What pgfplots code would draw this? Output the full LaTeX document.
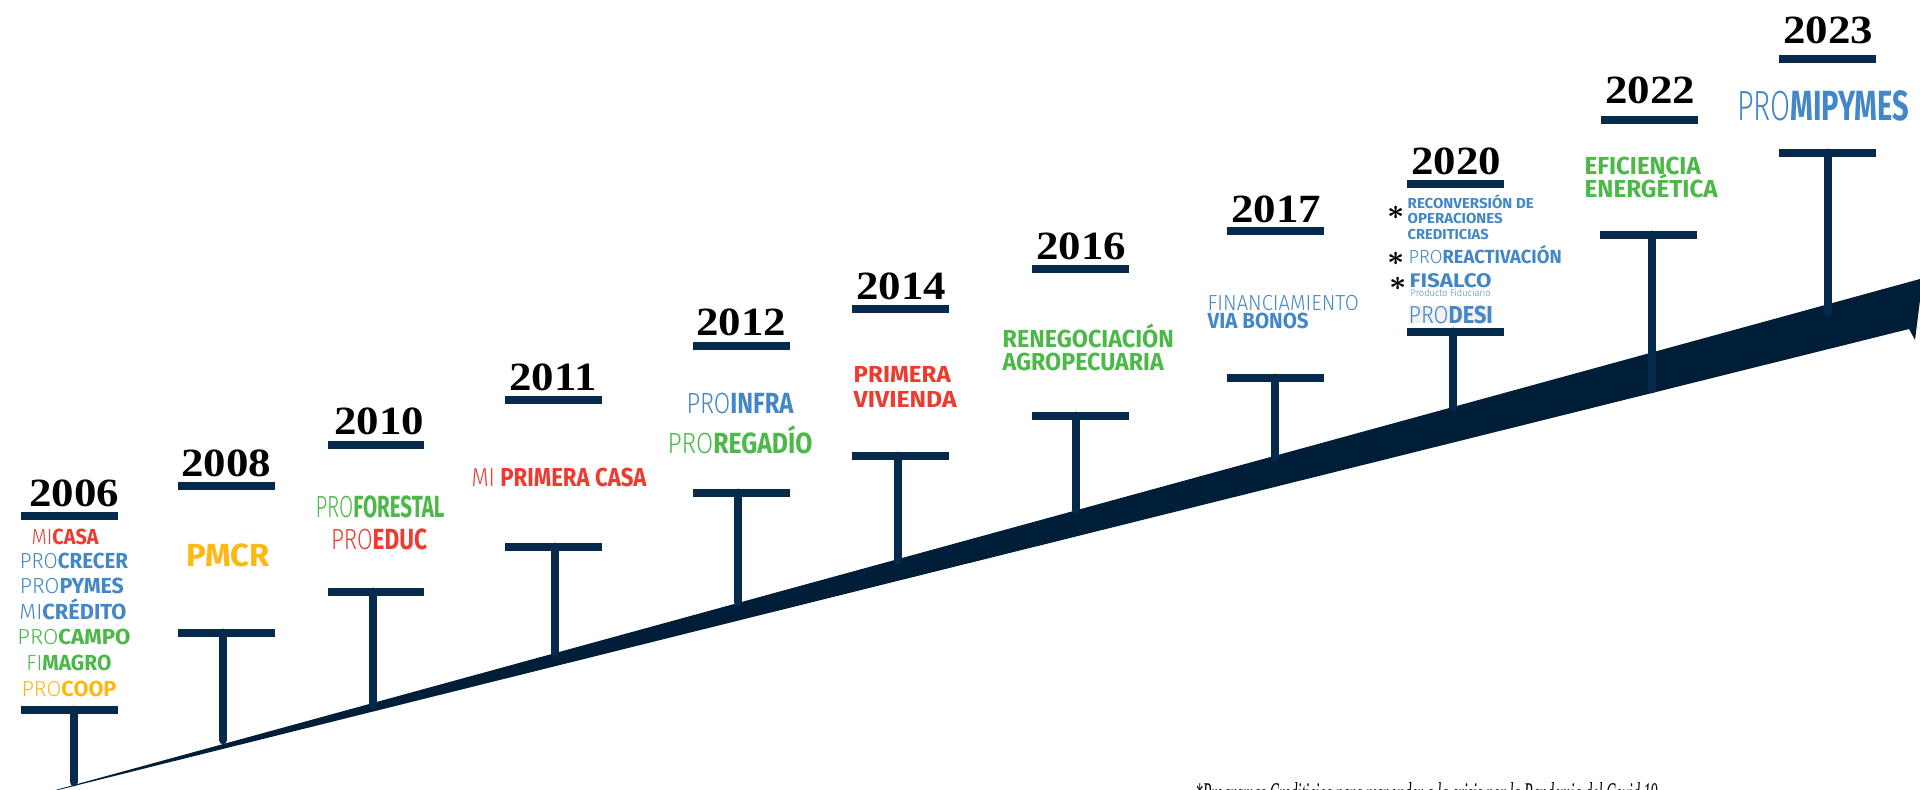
\documentclass[border=0pt]{standalone}
\usepackage{graphicx}
\usepackage{pgfplots}
\pgfplotsset{compat=1.18}
\usepackage{fontspec}
\setmainfont{Liberation Serif}
\newfontfamily\fira{Fira Sans}[UprightFont={* Light}, BoldFont={* Bold}]
\newcommand\lt[1]{{\fira\mdseries #1}}
\newcommand\bd[1]{{\fira\bfseries #1}}
\newcommand\fl[3]{\resizebox{#1}{\height}{\fontsize{#2}{#2}\selectfont #3}}
\newcommand\yr[1]{\scalebox{1.12}[1]{\fontsize{11.4}{11.4}\selectfont\bfseries #1}}
\newsavebox\astbox
\definecolor{barc}{HTML}{062A4B}
\definecolor{ribc}{HTML}{011E38}
\definecolor{cred}{HTML}{EE3B2F}
\definecolor{cblue}{HTML}{4287C8}
\definecolor{cgreen}{HTML}{4CB848}
\definecolor{cyel}{HTML}{FDB813}
\begin{document}
\sbox\astbox{\fontsize{8}{8}\selectfont\boldmath$\ast$}%
\begin{tikzpicture}
\begin{axis}[name=ax, scale only axis, width=192mm, height=79mm,
  xmin=0, xmax=1920, ymin=0, ymax=790, y dir=reverse, hide axis, clip=false]
% ribbon
\addplot[fill=ribc, draw=none] coordinates {(30,797) (1920,279) (1920,300) (1915,340) (1909,329) (30,797)};
% stems
\addplot[barc, line width=0.88mm, line cap=round] coordinates {(74,710) (74,782)};
\addplot[barc, line width=0.88mm, line cap=round] coordinates {(223,633) (223,740)};
\addplot[barc, line width=0.88mm, line cap=round] coordinates {(373,592) (373,705)};
\addplot[barc, line width=0.88mm, line cap=round] coordinates {(555,547) (555,653)};
\addplot[barc, line width=0.88mm, line cap=round] coordinates {(738,493) (738,602)};
\addplot[barc, line width=0.88mm, line cap=round] coordinates {(898,456) (898,560)};
\addplot[barc, line width=0.88mm, line cap=round] coordinates {(1076,416) (1076,510)};
\addplot[barc, line width=0.88mm, line cap=round] coordinates {(1275,378) (1275,457)};
\addplot[barc, line width=0.88mm, line cap=round] coordinates {(1453,332) (1453,407)};
\addplot[barc, line width=0.88mm, line cap=round] coordinates {(1652,235) (1652,389)};
\addplot[barc, line width=0.88mm, line cap=round] coordinates {(1828,153) (1828,312)};
% bottom bars
\addplot[barc, line width=0.88mm] coordinates {(21,710) (118,710)};
\addplot[barc, line width=0.88mm] coordinates {(178,633) (275,633)};
\addplot[barc, line width=0.88mm] coordinates {(328,592) (424,592)};
\addplot[barc, line width=0.88mm] coordinates {(505,547) (602,547)};
\addplot[barc, line width=0.88mm] coordinates {(693,493) (790,493)};
\addplot[barc, line width=0.88mm] coordinates {(852,456) (949,456)};
\addplot[barc, line width=0.88mm] coordinates {(1032,416) (1129,416)};
\addplot[barc, line width=0.88mm] coordinates {(1227,378) (1324,378)};
\addplot[barc, line width=0.88mm] coordinates {(1407,332) (1504,332)};
\addplot[barc, line width=0.88mm] coordinates {(1600,235) (1697,235)};
\addplot[barc, line width=0.88mm] coordinates {(1779,153) (1876,153)};
% top bars
\addplot[barc, line width=0.88mm] coordinates {(21,516) (118,516)};
\addplot[barc, line width=0.88mm] coordinates {(178,486) (275,486)};
\addplot[barc, line width=0.88mm] coordinates {(328,445) (424,445)};
\addplot[barc, line width=0.88mm] coordinates {(505,400) (602,400)};
\addplot[barc, line width=0.88mm] coordinates {(693,346) (790,346)};
\addplot[barc, line width=0.88mm] coordinates {(852,309) (949,309)};
\addplot[barc, line width=0.88mm] coordinates {(1032,269) (1129,269)};
\addplot[barc, line width=0.88mm] coordinates {(1227,231) (1324,231)};
\addplot[barc, line width=0.88mm] coordinates {(1407,184) (1504,184)};
\addplot[barc, line width=0.88mm] coordinates {(1601,120) (1698,120)};
\addplot[barc, line width=0.88mm] coordinates {(1779,59) (1876,59)};
% years
\node[anchor=base, inner sep=0] at (axis cs:74,507) {\yr{2006}};
\node[anchor=base, inner sep=0] at (axis cs:226,477) {\yr{2008}};
\node[anchor=base, inner sep=0] at (axis cs:379,435) {\yr{2010}};
\node[anchor=base, inner sep=0] at (axis cs:553,390) {\yr{2011}};
\node[anchor=base, inner sep=0] at (axis cs:741,335) {\yr{2012}};
\node[anchor=base, inner sep=0] at (axis cs:901,299) {\yr{2014}};
\node[anchor=base, inner sep=0] at (axis cs:1081,259) {\yr{2016}};
\node[anchor=base, inner sep=0] at (axis cs:1276,222) {\yr{2017}};
\node[anchor=base, inner sep=0] at (axis cs:1456,174) {\yr{2020}};
\node[anchor=base, inner sep=0] at (axis cs:1650,103) {\yr{2022}};
\node[anchor=base, inner sep=0] at (axis cs:1828,43) {\yr{2023}};
% 2006
\node[anchor=base, inner sep=0, text=cred] at (axis cs:65,545) {\fl{6.7mm}{6.2}{\lt{MI}\bd{CASA}}};
\node[anchor=base, inner sep=0, text=cblue] at (axis cs:74,569) {\fl{10.8mm}{6.2}{\lt{PRO}\bd{CRECER}}};
\node[anchor=base, inner sep=0, text=cblue] at (axis cs:72,594) {\fl{10.4mm}{6.2}{\lt{PRO}\bd{PYMES}}};
\node[anchor=base, inner sep=0, text=cblue] at (axis cs:73,620) {\fl{10.7mm}{6.2}{\lt{MI}\bd{CRÉDITO}}};
\node[anchor=base, inner sep=0, text=cgreen] at (axis cs:74,645) {\fl{11.3mm}{6.2}{\lt{PRO}\bd{CAMPO}}};
\node[anchor=base, inner sep=0, text=cgreen] at (axis cs:69,671) {\fl{8.5mm}{6.2}{\lt{FI}\bd{MAGRO}}};
\node[anchor=base, inner sep=0, text=cyel] at (axis cs:69,697) {\fl{9.5mm}{6.2}{\lt{PRO}\bd{COOP}}};
% 2008
\node[anchor=base, inner sep=0, text=cyel] at (axis cs:228,567) {\fl{8.3mm}{9.1}{\bd{PMCR}}};
% 2010
\node[anchor=base, inner sep=0, text=cgreen] at (axis cs:380,518) {\fl{12.9mm}{8.7}{\lt{PRO}\bd{FORESTAL}}};
\node[anchor=base, inner sep=0, text=cred] at (axis cs:379,550) {\fl{9.6mm}{8.3}{\lt{PRO}\bd{EDUC}}};
% 2011
\node[anchor=base, inner sep=0, text=cred] at (axis cs:559,487) {\fl{17.5mm}{7.4}{\lt{MI} \bd{PRIMERA CASA}}};
% 2012
\node[anchor=base, inner sep=0, text=cblue] at (axis cs:740,414) {\fl{10.7mm}{8.3}{\lt{PRO}\bd{INFRA}}};
\node[anchor=base, inner sep=0, text=cgreen] at (axis cs:740,453) {\fl{14.5mm}{8.3}{\lt{PRO}\bd{REGADÍO}}};
% 2014
\node[anchor=base west, inner sep=0, text=cred] at (axis cs:853,382) {\fl{9.7mm}{6.6}{\bd{PRIMERA}}};
\node[anchor=base west, inner sep=0, text=cred] at (axis cs:853,407) {\fl{10.3mm}{6.6}{\bd{VIVIENDA}}};
% 2016
\node[anchor=base west, inner sep=0, text=cgreen] at (axis cs:1002,347) {\fl{17.1mm}{7.0}{\bd{RENEGOCIACIÓN}}};
\node[anchor=base west, inner sep=0, text=cgreen] at (axis cs:1002,370) {\fl{16.1mm}{7.0}{\bd{AGROPECUARIA}}};
% 2017
\node[anchor=base west, inner sep=0, text=cblue] at (axis cs:1207,310) {\fl{15.1mm}{6.2}{\lt{FINANCIAMIENTO}}};
\node[anchor=base west, inner sep=0, text=cblue] at (axis cs:1207,328) {\fl{10.1mm}{6.2}{\bd{VIA BONOS}}};
% 2020
\node[anchor=base west, inner sep=0, text=cblue] at (axis cs:1407,208) {\fl{12.6mm}{4.1}{\bd{RECONVERSIÓN DE}}};
\node[anchor=base west, inner sep=0, text=cblue] at (axis cs:1407,223) {\fl{9.5mm}{4.1}{\bd{OPERACIONES}}};
\node[anchor=base west, inner sep=0, text=cblue] at (axis cs:1407,239) {\fl{8.1mm}{4.1}{\bd{CREDITICIAS}}};
\node[anchor=base west, inner sep=0, text=cblue] at (axis cs:1408,263) {\fl{15.3mm}{5.4}{\lt{PRO}\bd{REACTIVACIÓN}}};
\node[anchor=base west, inner sep=0, text=cblue] at (axis cs:1409,287) {\fl{8.2mm}{5.6}{\bd{FISALCO}}};
\node[anchor=base west, inner sep=0, text=cblue] at (axis cs:1410,296) {\fl{8.0mm}{2.8}{{\fira\mdseries Producto Fiduciario}}};
\node[anchor=base west, inner sep=0, text=cblue, fill=gray!10] at (axis cs:1408,323) {\fl{8.4mm}{7.0}{\lt{PRO}\bd{DESI}}};
\node[anchor=base, inner sep=0] at (axis cs:1396,219) {\usebox\astbox};
\node[anchor=base, inner sep=0] at (axis cs:1396,265) {\usebox\astbox};
\node[anchor=base, inner sep=0] at (axis cs:1398,290) {\usebox\astbox};
% 2022
\node[anchor=base west, inner sep=0, text=cgreen] at (axis cs:1584,174) {\fl{11.6mm}{7.0}{\bd{EFICIENCIA}}};
\node[anchor=base west, inner sep=0, text=cgreen] at (axis cs:1584,197) {\fl{13.3mm}{7.0}{\bd{ENERGÉTICA}}};
% 2023
\node[anchor=base, inner sep=0, text=cblue] at (axis cs:1823,120) {\fl{17.2mm}{12}{\lt{PRO}\bd{MIPYMES}}};
% footnote
\node[anchor=north west, inner sep=0] at (axis cs:1195,782) {\fl{46.2mm}{9}{\itshape *Programas Crediticios para responder a la crisis por la Pandemia del Covid 19}};
\end{axis}
\pgfresetboundingbox
\path[use as bounding box] (ax.south west) rectangle (ax.north east);
\end{tikzpicture}
\end{document}
